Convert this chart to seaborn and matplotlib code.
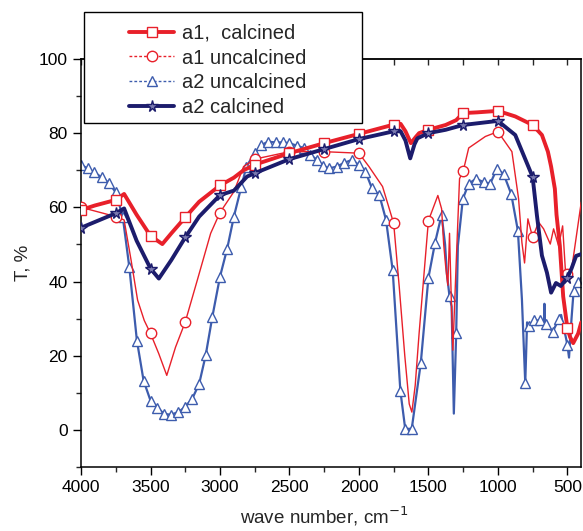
import matplotlib
matplotlib.use("Agg")
import matplotlib.pyplot as plt
import seaborn as sns
from matplotlib.lines import Line2D
from matplotlib.patches import Rectangle
from matplotlib.ticker import MultipleLocator

# ---------------- data ----------------
a1c_x = [4000, 3900, 3750, 3690, 3600, 3500, 3415, 3350, 3250, 3150, 3000, 2900, 2830, 2750, 2500,
         2250, 2000, 1750, 1700, 1665, 1626, 1590, 1567, 1500, 1376, 1300, 1250, 1150, 1000, 875,
         750, 683, 640, 617, 590, 578, 554, 530, 500, 480, 458, 422, 400]
a1c_y = [59.3, 60.5, 62.0, 63.6, 58.0, 52.3, 50.1, 53.0, 57.3, 61.5, 65.9, 68.0, 70.0, 71.5, 74.6,
         77.3, 79.8, 82.3, 82.5, 80.5, 77.3, 79.0, 80.0, 80.9, 82.2, 83.5, 85.4, 85.6, 86.0, 84.5,
         82.2, 79.5, 75.0, 71.0, 65.0, 58.0, 49.6, 36.0, 27.5, 25.0, 23.4, 26.0, 29.0]

a2c_x = [4000, 3750, 3690, 3600, 3500, 3440, 3350, 3250, 3150, 3000, 2900, 2805, 2750, 2500, 2250,
         2000, 1750, 1700, 1665, 1631, 1600, 1579, 1500, 1376, 1250, 1000, 875, 750, 719, 683,
         647, 617, 582, 547, 509, 500, 470, 437, 400]
a2c_y = [54.5, 58.4, 59.7, 51.0, 43.5, 40.8, 45.8, 51.9, 57.5, 63.3, 64.5, 68.3, 69.2, 73.0, 75.7,
         78.4, 80.5, 80.5, 78.0, 73.2, 77.0, 78.6, 80.0, 80.9, 82.2, 83.3, 79.5, 68.2, 57.8, 47.0,
         42.4, 37.0, 39.6, 38.8, 40.6, 41.0, 43.5, 46.9, 47.4]

a1u_x = [4000, 3750, 3690, 3640, 3593, 3545, 3500, 3440, 3383, 3320, 3250, 3163, 3067, 3000, 2900,
         2830, 2750, 2500, 2250, 2000, 1928, 1830, 1750, 1710, 1670, 1638, 1619, 1595, 1567, 1500,
         1432, 1405, 1390, 1376, 1360, 1348, 1336, 1324, 1300, 1276, 1250, 1210, 1090, 1000, 899,
         851, 827, 808, 784, 750, 707, 671, 623, 599, 563, 534, 510, 500, 466, 438, 400]
a1u_y = [60.0, 57.5, 56.6, 45.8, 35.0, 29.5, 26.0, 20.5, 14.7, 22.3, 29.1, 40.4, 53.0, 58.6, 64.2,
         71.0, 73.0, 75.0, 75.0, 74.6, 71.0, 65.6, 55.7, 38.6, 20.0, 7.0, 4.8, 12.0, 26.0, 56.4,
         63.2, 59.6, 50.0, 44.2, 39.0, 53.0, 36.0, 21.5, 45.0, 67.7, 69.7, 76.0, 79.1, 80.4, 75.0,
         62.3, 50.5, 45.0, 56.9, 51.9, 56.0, 54.2, 50.1, 54.2, 49.6, 55.0, 40.6, 42.0, 44.2, 51.5, 61.4]

a2u_x = [4000, 3952, 3904, 3852, 3797, 3750, 3700, 3653, 3598, 3550, 3500, 3450, 3402, 3354, 3300,
         3254, 3200, 3150, 3103, 3055, 3000, 2948, 2900, 2846, 2810, 2750, 2702, 2654, 2600, 2550,
         2500, 2446, 2398, 2350, 2300, 2260, 2212, 2160, 2105, 2050, 2000, 1953, 1906, 1853, 1805,
         1757, 1702, 1667, 1620, 1555, 1500, 1452, 1405, 1380, 1367, 1348, 1333, 1317, 1300, 1288,
         1252, 1210, 1157, 1103, 1055, 1007, 959, 904, 856, 827, 803, 790, 773, 740, 700,
         668, 665, 662, 653, 605, 560, 545, 500, 488, 470, 455, 420, 400]
a2u_y = [71.4, 70.5, 69.4, 68.1, 66.5, 64.0, 57.5, 44.0, 24.1, 13.3, 7.9, 6.0, 4.3, 4.1, 4.8,
         6.1, 8.4, 12.4, 20.1, 30.5, 41.3, 48.9, 57.5, 65.6, 71.0, 74.6, 76.8, 77.7, 77.5, 77.5,
         77.3, 76.6, 76.0, 74.1, 72.8, 71.2, 70.5, 71.0, 72.0, 72.8, 71.4, 69.6, 65.1, 63.3, 56.6,
         43.0, 10.6, 0.3, 0.3, 18.0, 41.0, 50.5, 58.0, 50.0, 42.0, 36.0, 33.3, 4.4, 26.0, 49.6,
         62.3, 66.4, 67.7, 66.8, 66.4, 70.4, 69.0, 63.6, 53.7, 35.2, 12.6, 29.0, 28.0, 29.5, 29.5,
         29.0, 34.0, 29.0, 28.5, 26.5, 30.0, 31.0, 23.0, 19.5, 30.0, 37.5, 40.0, 41.0]
# wave numbers where symbols are drawn
marks_250 = [4000, 3750, 3500, 3250, 3000, 2750, 2500, 2250, 2000, 1750, 1500, 1250, 1000, 750, 500]
a2u_nomark = [1380, 1367, 1333, 1317, 1288, 827, 790, 668, 665, 662, 545, 488, 470, 400]

labels = ["a1,  calcined", "a1 uncalcined", "a2 uncalcined", "a2 calcined"]
x_ticks = [4000, 3500, 3000, 2500, 2000, 1500, 1000, 500]
y_ticks = [0, 20, 40, 60, 80, 100]

RED = "#e8202a"
NAVY = "#1c1c6c"
BLUE = "#3d5cad"

sns.set_style("ticks")
plt.rcParams["font.family"] = ["Liberation Sans", "DejaVu Sans"]

fig = plt.figure(figsize=(5.83, 5.31), dpi=100)
ax = fig.add_axes([0.139, 0.1205, 0.858, 0.7685])


def idx(xs, marks=None, nomark=None):
    if marks is not None:
        return [i for i, v in enumerate(xs) if v in marks]
    return [i for i, v in enumerate(xs) if v not in nomark]


styles = [
    (a2u_x, a2u_y, idx(a2u_x, nomark=a2u_nomark), BLUE, 1.6, "^", 7.5, "white", 2),
    (a1u_x, a1u_y, idx(a1u_x, marks=marks_250), RED, 1.0, "o", 7.5, "white", 3),
    (a1c_x, a1c_y, idx(a1c_x, marks=marks_250), RED, 2.8, "s", 6.8, "white", 4),
    (a2c_x, a2c_y, idx(a2c_x, marks=marks_250), NAVY, 2.8, "*", 8.5, "#7a7ab0", 5),
]
for xs, ys, me, col, lw, mk, ms, mfc, z in styles:
    sns.lineplot(x=xs, y=ys, sort=False, estimator=None, ax=ax, color=col,
                 linewidth=lw, marker=mk, markersize=ms, markerfacecolor=mfc,
                 markeredgecolor=col, markeredgewidth=1.0, markevery=me,
                 legend=False, zorder=z)

ax.set_xlim(4000, 400)
ax.set_ylim(-10, 100)
ax.set_xticks(x_ticks)
ax.set_yticks(y_ticks)
ax.xaxis.set_minor_locator(MultipleLocator(250))
ax.yaxis.set_minor_locator(MultipleLocator(10))
ax.tick_params(which="major", direction="out", length=6, width=1.0, labelsize=12.5, colors="black")
ax.tick_params(which="minor", direction="out", length=3.5, width=1.0)
for s in ax.spines.values():
    s.set_linewidth(1.1)
    s.set_color("black")

sec = ax.secondary_xaxis("top")
sec.set_xticks(x_ticks)
sec.xaxis.set_minor_locator(MultipleLocator(250))
sec.tick_params(which="both", direction="in", length=4, width=1.0, labeltop=False)
sec.spines["top"].set_linewidth(1.1)

ax.set_xlabel("wave number, cm$^{-1}$", fontsize=13.5)
ax.set_ylabel("T, %", fontsize=13.5)
ax.xaxis.set_label_coords(0.487, -0.092)
ax.yaxis.set_label_coords(-0.100, 0.5)

# legend frame
rect = Rectangle((84 / 583, 1 - 123 / 531), (362 - 84) / 583, (123 - 12) / 531,
                 transform=fig.transFigure, facecolor="white", edgecolor="black",
                 linewidth=1.0, zorder=3)
fig.add_artist(rect)

handles = [
    Line2D([], [], color=RED, lw=2.8, marker="s", ms=6.8, mfc="white", mec=RED, mew=1.0),
    Line2D([], [], color=RED, lw=1.0, ls=(0, (2, 1.5)), marker="o", ms=7.5, mfc="white", mec=RED, mew=1.0),
    Line2D([], [], color=BLUE, lw=1.0, ls=(0, (2, 1.5)), marker="^", ms=7.5, mfc="white", mec=BLUE, mew=1.0),
    Line2D([], [], color=NAVY, lw=2.8, marker="*", ms=8.5, mfc="#7a7ab0", mec=NAVY, mew=1.0),
]
leg = fig.legend(handles, labels, loc="upper left", bbox_to_anchor=(0.222, 0.955),
                 frameon=False, fontsize=14.5, handlelength=2.2, handletextpad=0.4,
                 labelspacing=0.28, borderpad=0, borderaxespad=0)
leg.set_zorder(4)

fig.savefig("out.png", dpi=100)
